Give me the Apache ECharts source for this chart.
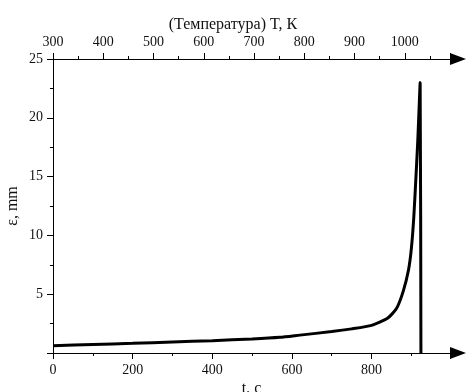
<!DOCTYPE html>
<html>
<head>
<meta charset="utf-8">
<script src="https://cdn.jsdelivr.net/npm/echarts@6/dist/echarts.min.js"></script>
<style>
  html, body { margin: 0; padding: 0; background: #fff; }
  #chart { width: 466px; height: 392px; }
</style>
</head>
<body>
<div id="chart"></div>
<script>
// time, s and strain, mm
const timeSec = [0, 100, 200, 300, 400, 500, 570, 620, 700, 750, 800, 840, 863, 880, 893, 900, 906, 912, 916, 919, 922, 924];
const strainMm = [0.62, 0.72, 0.82, 0.93, 1.05, 1.19, 1.33, 1.52, 1.82, 2.05, 2.35, 2.95, 3.8, 5.3, 7.1, 8.9, 11.5, 15.3, 18.0, 20.5, 23.0, 0];

const tempLabelMin = 300;
const tempLabelMax = 1090;

const seriesData = timeSec.map((t, i) => [t, strainMm[i]]);
const serif = "Liberation Serif";

const axisBase = {
  axisLine: {
    show: true,
    lineStyle: { color: "#000", width: 1 },
  },
  axisTick: { show: true, length: 6, lineStyle: { color: "#000" } },
  minorTick: { show: true, splitNumber: 2, length: 3, lineStyle: { color: "#000" } },
  splitLine: { show: false },
  axisLabel: {
    color: "#111",
    fontFamily: serif,
    fontSize: 14,
    margin: 10,
    showMaxLabel: false,
    formatter: (v) => String(v),
  },
  nameMoveOverlap: false,
  nameTextStyle: { color: "#111", fontFamily: serif, fontSize: 16 },
};

const arrowLine = {
  ...axisBase.axisLine,
  onZero: false,
  symbol: ["none", "triangle"],
  symbolSize: [12, 16],
  symbolOffset: [0, 8],
};

const chart = echarts.init(document.getElementById("chart"));
chart.setOption({
  animation: false,
  title: {
    text: "(Температура) T, К",
    left: "center",
    top: 12,
    textStyle: { color: "#111", fontFamily: serif, fontSize: 16, fontWeight: "normal" },
  },
  grid: { left: 53, right: 16, top: 59, bottom: 39, outerBoundsMode: "none", containLabel: false },
  xAxis: [
    {
      ...axisBase,
      type: "value",
      position: "bottom",
      min: 0,
      max: 997,
      interval: 200,
      name: "t, c",
      nameLocation: "middle",
      nameGap: 28,
      axisLine: arrowLine,
    },
    {
      ...axisBase,
      type: "value",
      position: "top",
      min: tempLabelMin,
      max: tempLabelMax,
      interval: 100,
      axisLine: arrowLine,
    },
  ],
  yAxis: {
    ...axisBase,
    type: "value",
    min: 0,
    max: 25,
    interval: 5,
    name: "ε, mm",
    nameLocation: "middle",
    nameGap: 32,
    axisLabel: { ...axisBase.axisLabel, showMinLabel: false, showMaxLabel: true },
  },
  series: [
    {
      type: "line",
      xAxisIndex: 0,
      data: seriesData,
      showSymbol: false,
      smooth: 0.2,
      lineStyle: { color: "#000", width: 3 },
    },
  ],
});
</script>
</body>
</html>
